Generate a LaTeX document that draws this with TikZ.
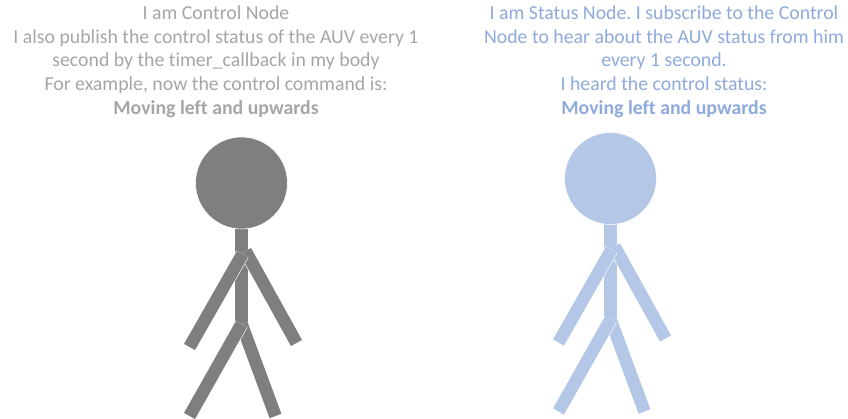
\documentclass[tikz,border=0pt]{standalone}
\usepackage{fontspec}
\setmainfont{Carlito}[Ligatures=NoCommon]
\usetikzlibrary{calc}
\frenchspacing
\definecolor{ctrlColor}{HTML}{7F7F7F}
\definecolor{ctrlText}{HTML}{A6A6A6}
\definecolor{statColor}{HTML}{B4C7E7}
\definecolor{statText}{HTML}{8FAADC}
\tikzstyle{caption}=[align=center, inner sep=0pt, font=\fontsize{19.8}{23.7}\selectfont]
\tikzstyle{limb}=[draw=white, line width=0.6pt, double distance=12.6pt]
\tikzstyle{head}=[circle, draw=white, line width=0.6pt, minimum size=92pt, inner sep=0pt]

% stick figure: #1 name, #2 centre of the head, #3 colour
\newcommand{\drawPerson}[3]{%
  \begin{scope}[shift={#2}]
    \coordinate (#1-neck) at (0,46);
    \coordinate (#1-hip) at (0,142);
    \coordinate (#1-handL) at (-52,164);
    \coordinate (#1-handR) at (55,160);
    \coordinate (#1-footL) at (-52,233);
    \coordinate (#1-footR) at (34,233);
    \draw[limb, double=#3] (#1-neck) -- (#1-hip);
    \draw[limb, double=#3] (0,141) -- (#1-footR);
    \draw[limb, double=#3] (0,141) -- (#1-footL);
    \draw[limb, double=#3] (4,68) -- (#1-handR);
    \draw[limb, double=#3] (1,71) -- (#1-handL);
    \node(#1) [head, fill=#3] at (0,0) {};
  \end{scope}}

\begin{document}
\begin{tikzpicture}[x=1pt, y=-1pt]
  \useasboundingbox[fill=white] (0,0) rectangle (848,419);

  \node(ctrlLabel) [caption, text=ctrlText, anchor=north] at (216,5.5)
    {I am Control Node\\
     I also publish the control status of the AUV every 1\\
     second by the timer\_callback in my body\\
     For example, now the control command is:\\
     \textbf{Moving left and upwards}};
  \node(statLabel) [caption, text=statText, anchor=north] at (664,5.5)
    {I am Status Node. I subscribe to the Control\\
     Node to hear about the AUV status from him\\
     every 1 second.\\
     I heard the control status:\\
     \textbf{Moving left and upwards}};

  \drawPerson{ctrl}{(241.5,183)}{ctrlColor}
  \drawPerson{stat}{(610.5,178.5)}{statColor}
\end{tikzpicture}
\end{document}
